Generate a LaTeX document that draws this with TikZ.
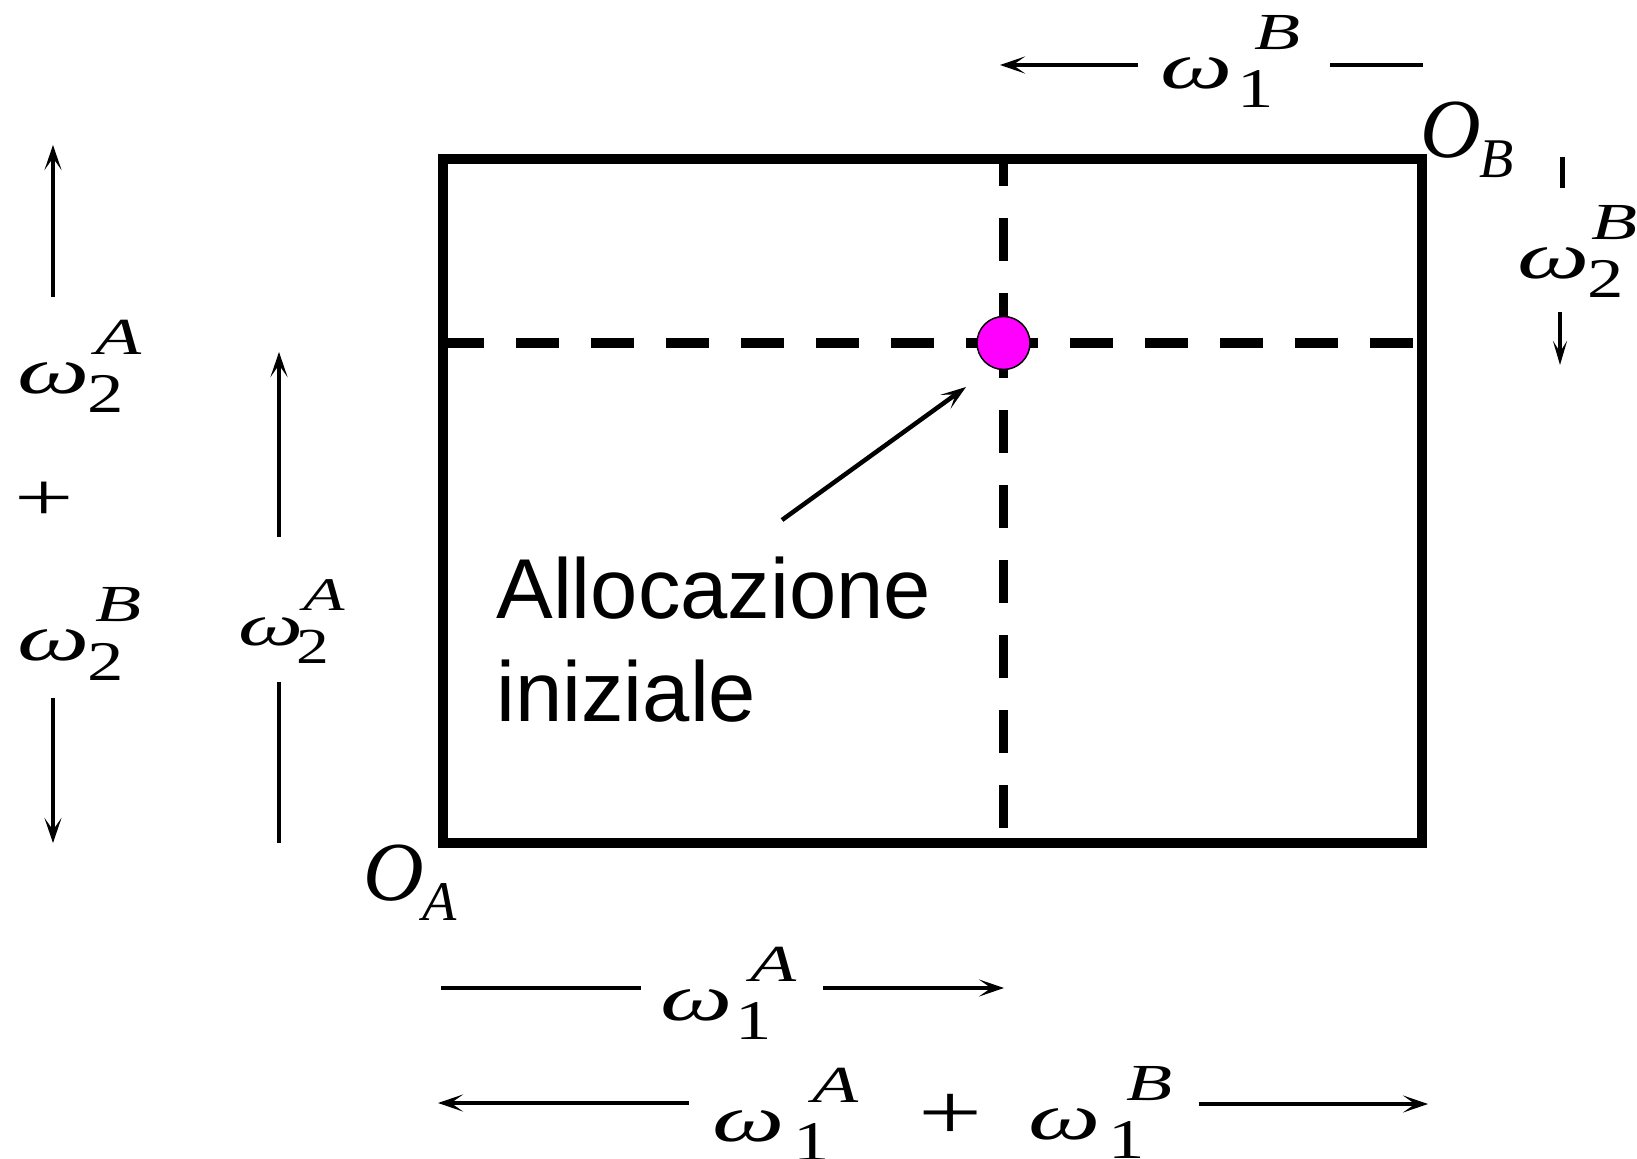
\documentclass[tikz,border=0pt]{standalone}
\usepackage{fontspec}
\usepackage{graphicx}
\setmainfont{Liberation Serif}
\newfontfamily\tms{Liberation Serif}
\newfontfamily\sansf{Liberation Sans}
\usetikzlibrary{arrows.meta}
\definecolor{dotmag}{RGB}{255,0,255}
% #1 subscript, #2 superscript, #3 subscript offset (pt), #4 superscript offset (pt)
\newcommand{\om}[4]{{\tms%
 \rlap{\raisebox{-0.5pt}{\scalebox{1.55}[1]{\fontsize{33}{33}\selectfont\itshape ω}}}%
 \rlap{\hspace{#4pt}\raisebox{19pt}{\scalebox{1.45}[1]{\fontsize{26}{26}\selectfont\itshape #2}}}%
 \hspace{#3pt}\raisebox{-10pt}{\scalebox{1.3}[1]{\fontsize{28}{28}\selectfont #1}}}}
\newcommand{\ori}[1]{{\tms\fontsize{42}{42}\selectfont\itshape O}\kern-1pt\raisebox{-10pt}{\tms\fontsize{28}{28}\selectfont\itshape #1}}
\begin{document}
\begin{tikzpicture}[x=0.5pt,y=-0.5pt,
  frame/.style={line width=5pt, line join=miter},
  guide/.style={line width=4.75pt, dash pattern=on 21.5pt off 16pt},
  dim/.style={line width=2.25pt},
  tip/.style={-{Stealth[length=12.5pt,width=8.5pt,inset=6pt]}},
  smalltip/.style={-{Stealth[length=12pt,width=7pt,inset=5.5pt]}},
  lbl/.style={inner sep=0pt, anchor=base west},
  plus/.style={inner sep=0pt},
]
\useasboundingbox (0,0) rectangle (1637,1159);
% box and guides
\coordinate (SW) at (443,843);
\coordinate (NE) at (1422,159);
\coordinate (P) at (1003.5,343);
\coordinate (hl) at (443,343);
\coordinate (hr) at (1413,343);
\coordinate (vt) at (1003.5,159);
\coordinate (vb) at (1003.5,828);
\draw[guide, dash phase=1pt] (hl) -- (P);
\draw[guide] (hr) -- (P);
\draw[guide, dash phase=8pt] (vt) -- (P);
\draw[guide] (vb) -- (P);
\draw[frame] (SW) rectangle (NE);
\node[circle, draw, line width=0.75pt, fill=dotmag, minimum size=26.5pt, inner sep=0pt] (alloc) at (P) {};
% annotation
\node[lbl, font=\sansf\fontsize{42.5}{51.5}\selectfont] (txt1) at (496,618) {Allocazione};
\node[lbl, font=\sansf\fontsize{42.5}{51.5}\selectfont] (txt2) at (496,721) {iniziale};
\coordinate (anns) at (782,520);
\coordinate (annt) at (966,387);
\draw[dim, tip] (anns) -- (annt);
% origins
\node[lbl] (OA) at (363,900) {\ori{A}};
\node[lbl] (OB) at (1420,158) {\ori{B}};
% left column
\node[lbl] (wL1) at (17,393) {\om{2}{A}{35}{39}};
\node[plus] (plusL) at (44,501) {\scalebox{1.55}[1]{\tms\fontsize{34}{34}\selectfont +}};
\node[lbl] (wL2) at (17,660) {\om{2}{B}{35}{39}};
\coordinate (l1a) at (53,297); \coordinate (l1b) at (53,145);
\coordinate (l2a) at (53,698); \coordinate (l2b) at (53,843);
\draw[dim, tip] (l1a) -- (l1b);
\draw[dim, tip] (l2a) -- (l2b);
% second column
\node[lbl] (wM) at (238,645) {\scalebox{0.9}{\om{2}{A}{32.5}{36}}};
\coordinate (m1a) at (279,537); \coordinate (m1b) at (279,352);
\coordinate (m2a) at (279,682); \coordinate (m2b) at (279,843);
\draw[dim, tip] (m1a) -- (m1b);
\draw[dim] (m2a) -- (m2b);
% bottom rows
\node[lbl] (wB1) at (660,1019) {\om{1}{A}{37.5}{45}};
\coordinate (b1a) at (441,988); \coordinate (b1b) at (641,988);
\coordinate (b1c) at (823,988); \coordinate (b1d) at (1004,988);
\draw[dim] (b1a) -- (b1b);
\draw[dim, tip] (b1c) -- (b1d);
\node[lbl] (wB2a) at (712,1140) {\om{1}{A}{40.5}{50}};
\node[plus] (plusB) at (951,1117) {\scalebox{1.42}[1]{\tms\fontsize{40}{40}\selectfont +}};
\node[lbl] (wB2b) at (1028,1138) {\om{1}{B}{40}{49}};
\coordinate (b2a) at (689,1103); \coordinate (b2b) at (438,1103);
\coordinate (b2c) at (1199,1104); \coordinate (b2d) at (1428,1104);
\draw[dim, tip] (b2a) -- (b2b);
\draw[dim, tip] (b2c) -- (b2d);
% top
\node[lbl] (wT) at (1160,88) {\om{1}{B}{38.5}{47}};
\coordinate (t1a) at (1138,65); \coordinate (t1b) at (1000,65);
\coordinate (t2a) at (1330,65); \coordinate (t2b) at (1423,65);
\draw[dim, tip] (t1a) -- (t1b);
\draw[dim] (t2a) -- (t2b);
% right
\node[lbl] (wR) at (1517,278) {\om{2}{B}{35}{37}};
\coordinate (r1a) at (1562,157); \coordinate (r1b) at (1562,188);
\coordinate (r2a) at (1560,312); \coordinate (r2b) at (1560,365);
\draw[line width=2.5pt] (r1a) -- (r1b);
\draw[line width=1.7pt, smalltip] (r2a) -- (r2b);
\end{tikzpicture}
\end{document}
